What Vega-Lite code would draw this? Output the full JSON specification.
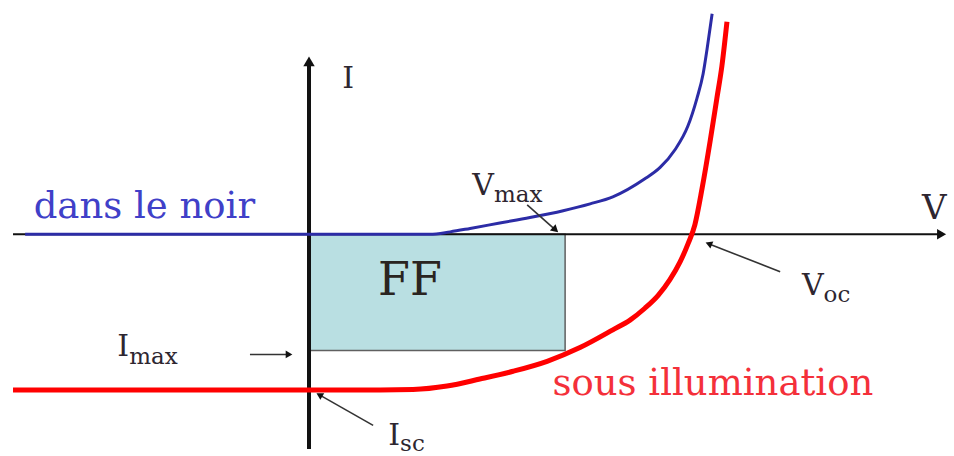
{
  "$schema": "https://vega.github.io/schema/vega-lite/v6.json",
  "width": 954,
  "height": 456,
  "padding": 0,
  "autosize": {"type": "fit", "contains": "padding"},
  "background": "white",
  "config": {"view": {"stroke": null}},
  "datasets": {
    "curves": [
      {"series": "noir", "V": -0.726, "I": 0},
      {"series": "noir", "V": 0.309, "I": 0},
      {"series": "noir", "V": 0.361, "I": 0.016},
      {"series": "noir", "V": 0.412, "I": 0.038},
      {"series": "noir", "V": 0.488, "I": 0.073},
      {"series": "noir", "V": 0.565, "I": 0.108},
      {"series": "noir", "V": 0.65, "I": 0.152},
      {"series": "noir", "V": 0.719, "I": 0.196},
      {"series": "noir", "V": 0.777, "I": 0.241},
      {"series": "noir", "V": 0.857, "I": 0.354},
      {"series": "noir", "V": 0.898, "I": 0.43},
      {"series": "noir", "V": 0.936, "I": 0.544},
      {"series": "noir", "V": 0.969, "I": 0.696},
      {"series": "noir", "V": 0.992, "I": 0.873},
      {"series": "noir", "V": 1.008, "I": 1.032},
      {"series": "noir", "V": 1.018, "I": 1.19},
      {"series": "noir", "V": 1.031, "I": 1.418},
      {"series": "illum", "V": -0.757, "I": -1.0},
      {"series": "illum", "V": 0.182, "I": -1.0},
      {"series": "illum", "V": 0.266, "I": -0.997},
      {"series": "illum", "V": 0.353, "I": -0.975},
      {"series": "illum", "V": 0.437, "I": -0.93},
      {"series": "illum", "V": 0.522, "I": -0.88},
      {"series": "illum", "V": 0.609, "I": -0.816},
      {"series": "illum", "V": 0.693, "I": -0.728},
      {"series": "illum", "V": 0.777, "I": -0.614},
      {"series": "illum", "V": 0.821, "I": -0.551},
      {"series": "illum", "V": 0.859, "I": -0.475},
      {"series": "illum", "V": 0.893, "I": -0.392},
      {"series": "illum", "V": 0.923, "I": -0.291},
      {"series": "illum", "V": 0.949, "I": -0.177},
      {"series": "illum", "V": 0.969, "I": -0.063},
      {"series": "illum", "V": 0.987, "I": 0.063},
      {"series": "illum", "V": 1.005, "I": 0.291},
      {"series": "illum", "V": 1.026, "I": 0.601},
      {"series": "illum", "V": 1.043, "I": 0.873},
      {"series": "illum", "V": 1.056, "I": 1.082},
      {"series": "illum", "V": 1.069, "I": 1.367}
    ],
    "rect": [{"V": 0, "V2": 0.655, "I": 0, "I2": -0.747}],
    "axes": [
      {"name": "V", "V": -0.757, "I": 0, "V2": 1.614, "I2": 0},
      {"name": "I", "V": 0, "I": -1.38, "V2": 0, "I2": 1.101}
    ],
    "arrows": [
      {"name": "Vmax", "V": 0.558, "I": 0.19, "V2": 0.628, "I2": 0.034},
      {"name": "Imax", "V": -0.151, "I": -0.772, "V2": -0.054, "I2": -0.772},
      {"name": "Isc", "V": 0.164, "I": -1.228, "V2": 0.029, "I2": -1.035},
      {"name": "Voc", "V": 1.205, "I": -0.241, "V2": 1.025, "I2": -0.063}
    ],
    "labels": [
      {"group": "axisI", "text": "I", "V": 0.1, "I": 0.943},
      {"group": "axisV", "text": "V", "V": 1.568, "I": 0.101},
      {"group": "main", "text": "V", "V": 0.473, "I": 0.253},
      {"group": "sub", "text": "max", "V": 0.473, "I": 0.209},
      {"group": "main", "text": "I", "V": -0.46, "I": -0.785},
      {"group": "sub", "text": "max", "V": -0.46, "I": -0.835},
      {"group": "main", "text": "I", "V": 0.233, "I": -1.354},
      {"group": "sub", "text": "sc", "V": 0.233, "I": -1.392},
      {"group": "main", "text": "V", "V": 1.316, "I": -0.392},
      {"group": "sub", "text": "oc", "V": 1.316, "I": -0.437},
      {"group": "ff", "text": "FF", "V": 0.258, "I": -0.392},
      {"group": "noir", "text": "dans le noir", "V": -0.421, "I": 0.108},
      {"group": "illum", "text": "sous illumination", "V": 1.033, "I": -1.032}
    ]
  },
  "encoding": {
    "x": {"field": "V", "type": "quantitative", "scale": {"domain": [-0.7903, 1.6496], "nice": false, "zero": false}, "axis": null},
    "y": {"field": "I", "type": "quantitative", "scale": {"domain": [-1.3797, 1.5063], "nice": false, "zero": false}, "axis": null}
  },
  "layer": [
    {
      "data": {"name": "rect"},
      "mark": {"type": "rect", "fill": "#b9dfe2", "stroke": "#606060", "strokeWidth": 1.5},
      "encoding": {"x2": {"field": "V2"}, "y2": {"field": "I2"}}
    },
    {
      "data": {"name": "axes"},
      "transform": [{"filter": "datum.name === 'V'"}],
      "mark": {"type": "rule", "color": "#111111", "strokeWidth": 2},
      "encoding": {"x2": {"field": "V2"}, "y2": {"field": "I2"}}
    },
    {
      "data": {"name": "axes"},
      "transform": [{"filter": "datum.name === 'I'"}],
      "mark": {"type": "rule", "color": "#111111", "strokeWidth": 4},
      "encoding": {"x2": {"field": "V2"}, "y2": {"field": "I2"}}
    },
    {
      "data": {"name": "axes"},
      "transform": [{"filter": "datum.name === 'V'"}],
      "mark": {"type": "point", "shape": "triangle", "filled": true, "color": "#111111", "opacity": 1, "size": 110, "angle": 90},
      "encoding": {"x": {"field": "V2", "type": "quantitative"}, "y": {"field": "I2", "type": "quantitative"}}
    },
    {
      "data": {"name": "axes"},
      "transform": [{"filter": "datum.name === 'I'"}],
      "mark": {"type": "point", "shape": "triangle", "filled": true, "color": "#111111", "opacity": 1, "size": 130, "angle": 0},
      "encoding": {"x": {"field": "V2", "type": "quantitative"}, "y": {"field": "I2", "type": "quantitative"}}
    },
    {
      "data": {"name": "curves"},
      "transform": [{"filter": "datum.series === 'noir'"}],
      "mark": {"type": "line", "color": "#2c2ca6", "strokeWidth": 3, "interpolate": "monotone", "strokeCap": "butt"}
    },
    {
      "data": {"name": "curves"},
      "transform": [{"filter": "datum.series === 'illum'"}],
      "mark": {"type": "line", "color": "#ff0000", "strokeWidth": 5, "interpolate": "monotone", "strokeCap": "butt"}
    },
    {
      "data": {"name": "arrows"},
      "mark": {"type": "rule", "color": "#333333", "strokeWidth": 1.6},
      "encoding": {"x2": {"field": "V2"}, "y2": {"field": "I2"}}
    },
    {
      "data": {"name": "arrows"},
      "transform": [{"filter": "datum.name === 'Vmax'"}],
      "mark": {"type": "point", "shape": "triangle", "filled": true, "color": "#111111", "opacity": 1, "size": 70, "angle": 132},
      "encoding": {"x": {"field": "V2", "type": "quantitative"}, "y": {"field": "I2", "type": "quantitative"}}
    },
    {
      "data": {"name": "arrows"},
      "transform": [{"filter": "datum.name === 'Imax'"}],
      "mark": {"type": "point", "shape": "triangle", "filled": true, "color": "#111111", "opacity": 1, "size": 60, "angle": 90},
      "encoding": {"x": {"field": "V2", "type": "quantitative"}, "y": {"field": "I2", "type": "quantitative"}}
    },
    {
      "data": {"name": "arrows"},
      "transform": [{"filter": "datum.name === 'Isc'"}],
      "mark": {"type": "point", "shape": "triangle", "filled": true, "color": "#111111", "opacity": 1, "size": 60, "angle": 300},
      "encoding": {"x": {"field": "V2", "type": "quantitative"}, "y": {"field": "I2", "type": "quantitative"}}
    },
    {
      "data": {"name": "arrows"},
      "transform": [{"filter": "datum.name === 'Voc'"}],
      "mark": {"type": "point", "shape": "triangle", "filled": true, "color": "#111111", "opacity": 1, "size": 60, "angle": 292},
      "encoding": {"x": {"field": "V2", "type": "quantitative"}, "y": {"field": "I2", "type": "quantitative"}}
    },
    {
      "data": {"name": "labels"},
      "transform": [{"filter": "datum.group === 'axisI'"}],
      "mark": {"type": "text", "font": "DejaVu Serif", "fontSize": 30, "color": "#2e2630", "align": "center", "baseline": "alphabetic"},
      "encoding": {"text": {"field": "text"}}
    },
    {
      "data": {"name": "labels"},
      "transform": [{"filter": "datum.group === 'axisV'"}],
      "mark": {"type": "text", "font": "DejaVu Serif", "fontSize": 34, "color": "#2e2630", "align": "left", "baseline": "alphabetic"},
      "encoding": {"text": {"field": "text"}}
    },
    {
      "data": {"name": "labels"},
      "transform": [{"filter": "datum.group === 'main'"}],
      "mark": {"type": "text", "font": "DejaVu Serif", "fontSize": 30, "color": "#2e2630", "align": "right", "baseline": "alphabetic"},
      "encoding": {"text": {"field": "text"}}
    },
    {
      "data": {"name": "labels"},
      "transform": [{"filter": "datum.group === 'sub'"}],
      "mark": {"type": "text", "font": "DejaVu Serif", "fontSize": 23, "color": "#2e2630", "align": "left", "baseline": "alphabetic"},
      "encoding": {"text": {"field": "text"}}
    },
    {
      "data": {"name": "labels"},
      "transform": [{"filter": "datum.group === 'ff'"}],
      "mark": {"type": "text", "font": "DejaVu Serif", "fontSize": 46, "color": "#2a2420", "align": "center", "baseline": "alphabetic"},
      "encoding": {"text": {"field": "text"}}
    },
    {
      "data": {"name": "labels"},
      "transform": [{"filter": "datum.group === 'noir'"}],
      "mark": {"type": "text", "font": "DejaVu Serif", "fontSize": 37, "color": "#4040c8", "align": "center", "baseline": "alphabetic"},
      "encoding": {"text": {"field": "text"}}
    },
    {
      "data": {"name": "labels"},
      "transform": [{"filter": "datum.group === 'illum'"}],
      "mark": {"type": "text", "font": "DejaVu Serif", "fontSize": 37, "color": "#f4303a", "align": "center", "baseline": "alphabetic"},
      "encoding": {"text": {"field": "text"}}
    }
  ]
}
